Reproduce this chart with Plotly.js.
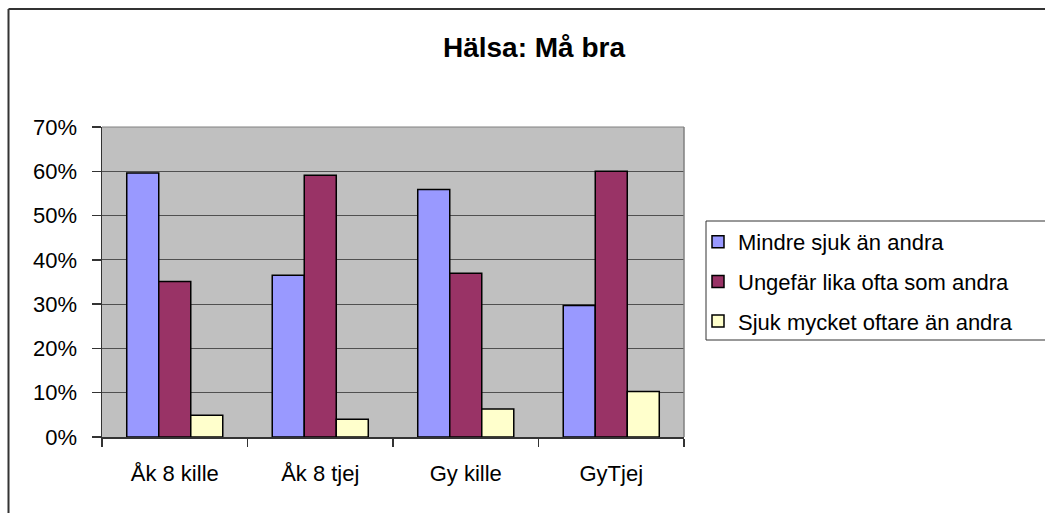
<!DOCTYPE html>
<html>
<head>
<meta charset="utf-8">
<script src="https://cdn.plot.ly/plotly-3.0.1.min.js"></script>
<style>
html, body { margin: 0; padding: 0; background: #fff; }
#chart { width: 1045px; height: 513px; }
</style>
</head>
<body>
<div id="chart"></div>
<script>
const categories = ["Åk 8 kille", "Åk 8 tjej", "Gy kille", "GyTjej"];
const seriesNames = ["Mindre sjuk än andra", "Ungefär lika ofta som andra", "Sjuk mycket oftare än andra"];
const mindreSjuk = [0.596, 0.365, 0.559, 0.297];
const ungefarLika = [0.351, 0.591, 0.370, 0.600];
const sjukOftare = [0.049, 0.040, 0.063, 0.103];
const yTickVals = [0, 0.1, 0.2, 0.3, 0.4, 0.5, 0.6, 0.7];
const yTickText = ["0%", "10%", "20%", "30%", "40%", "50%", "60%", "70%"];

const colors = ["#9999ff", "#993366", "#ffffcc"];
const values = [mindreSjuk, ungefarLika, sjukOftare];
const FONT = "Liberation Sans, Arial, sans-serif";

const W = 1045, H = 513;
const M = { l: 102, r: 361, t: 127, b: 76 };
const PW = W - M.l - M.r, PH = H - M.t - M.b;
const px = x => (x - M.l) / PW;
const py = y => (H - M.b - y) / PH;

const traces = values.map((v, i) => ({
  type: "bar",
  name: seriesNames[i],
  x: categories,
  y: v,
  legendgroup: "g" + i,
  marker: { color: colors[i], line: { color: "#000", width: 1.5 } },
  hoverinfo: "x+y+name"
}));

const shapes = [
  { type: "line", xref: "paper", yref: "paper", x0: px(8.5), x1: px(1060), y0: py(9), y1: py(9), line: { color: "#333", width: 2 } },
  { type: "line", xref: "paper", yref: "paper", x0: px(8.5), x1: px(8.5), y0: py(9), y1: py(530), line: { color: "#333", width: 2 } },
  { type: "line", xref: "paper", yref: "paper", x0: 0, x1: 1, y0: 1, y1: 1, line: { color: "#808080", width: 1 } },
  { type: "line", xref: "paper", yref: "paper", x0: 1, x1: 1, y0: 0, y1: 1, line: { color: "#808080", width: 1.5 } },
  { type: "rect", xref: "paper", yref: "paper", x0: px(706), x1: px(1060), y0: py(221), y1: py(340), line: { color: "#333", width: 1 }, fillcolor: "rgba(0,0,0,0)" }
];

const layout = {
  width: W, height: H,
  margin: M,
  paper_bgcolor: "#fff",
  plot_bgcolor: "#c0c0c0",
  font: { family: FONT, size: 22, color: "#000" },
  title: {
    text: "<b>Hälsa: Må bra</b>",
    font: { family: FONT, size: 28, color: "#000" },
    xref: "container", yref: "container",
    x: 534 / W, y: 1 - 47 / H, xanchor: "center", yanchor: "middle"
  },
  barmode: "group",
  bargap: 0.34,
  bargroupgap: 0,
  showlegend: true,
  legend: {
    x: px(698), y: py(221), xanchor: "left", yanchor: "top",
    xref: "paper", yref: "paper",
    font: { family: FONT, size: 22, color: "#000" },
    bgcolor: "rgba(0,0,0,0)", borderwidth: 0,
    itemwidth: 30,
    traceorder: "grouped", tracegroupgap: 8,
    itemclick: false, itemdoubleclick: false
  },
  xaxis: {
    type: "category",
    showline: true, linecolor: "#333", linewidth: 1.5,
    ticks: "outside", tickson: "boundaries", ticklen: 8, tickcolor: "#333", tickwidth: 1.5,
    ticklabelstandoff: 16,
    showgrid: false, zeroline: false,
    tickfont: { family: FONT, size: 22, color: "#000" }
  },
  yaxis: {
    range: [0, 0.7], autorange: false,
    tickvals: yTickVals, ticktext: yTickText,
    showline: true, linecolor: "#333", linewidth: 1.5,
    ticks: "outside", ticklen: 9, tickcolor: "#333", tickwidth: 1.5,
    ticklabelstandoff: 10,
    showgrid: true, gridcolor: "#505050", gridwidth: 1,
    zeroline: false,
    tickfont: { family: FONT, size: 22, color: "#000" }
  },
  shapes: shapes
};

Plotly.newPlot("chart", traces, layout, { displayModeBar: false, staticPlot: true });
</script>
</body>
</html>
